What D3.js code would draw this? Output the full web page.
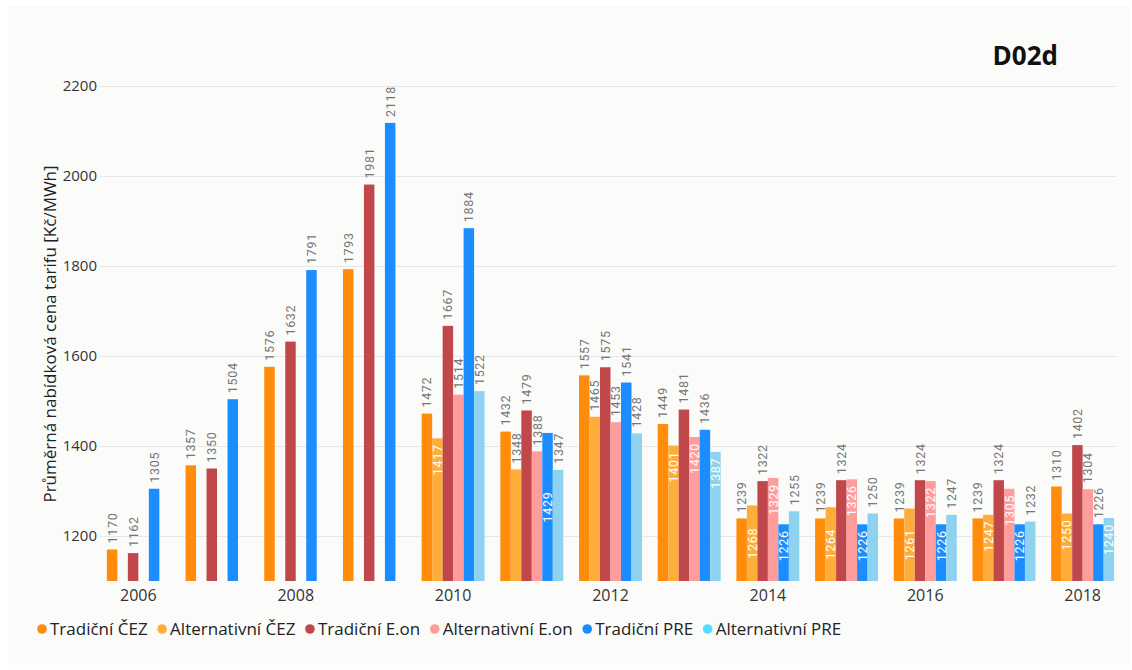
<!DOCTYPE html>
<html>
<head>
<meta charset="utf-8">
<script src="https://cdn.jsdelivr.net/npm/d3@7/dist/d3.min.js"></script>
<style>
  html, body { margin: 0; padding: 0; background: #ffffff; }
  svg { display: block; }
</style>
</head>
<body>
<svg id="chart" width="1132" height="670"></svg>
<script>
// ---- data ----
const years = ["2006","2007","2008","2009","2010","2011","2012","2013","2014","2015","2016","2017","2018"];
const tickYears = ["2006","2008","2010","2012","2014","2016","2018"];
const seriesNames = ["Tradiční ČEZ","Alternativní ČEZ","Tradiční E.on","Alternativní E.on","Tradiční PRE","Alternativní PRE"];
const tradicniCEZ    = [1170,1357,1576,1793,1472,1432,1557,1449,1239,1239,1239,1239,1310];
const alternativniCEZ= [null,null,null,null,1417,1348,1465,1401,1268,1264,1261,1247,1250];
const tradicniEon    = [1162,1350,1632,1981,1667,1479,1575,1481,1322,1324,1324,1324,1402];
const alternativniEon= [null,null,null,null,1514,1388,1453,1420,1329,1326,1322,1305,1304];
const tradicniPRE    = [1305,1504,1791,2118,1884,1429,1541,1436,1226,1226,1226,1226,1226];
const alternativniPRE= [null,null,null,null,1522,1347,1428,1387,1255,1250,1247,1232,1240];
const yTicks = [1200,1400,1600,1800,2000,2200];
const barColors    = ["#ff8c0a","#ffad3a","#c0484a","#ff9d9c","#1b8dff","#8dd3f0"];
const legendColors = ["#ff8c0a","#ffad3a","#c0484a","#ff9d9c","#1b8dff","#56dcff"];
const titleText = "D02d";
const yTitle = "Průměrná nabídková cena tarifu [Kč/MWh]";

const seriesValues = [tradicniCEZ, alternativniCEZ, tradicniEon, alternativniEon, tradicniPRE, alternativniPRE];

(function () {
// ---- layout ----
const svg = d3.select("#chart");
svg.append("rect").attr("x",8).attr("y",6).attr("width",1122).attr("height",659).attr("fill","#fbfcfa");

const plotLeft = 99, plotRight = 1122, plotTop = 86, plotBottom = 581;
const x0 = d3.scaleBand().domain(years).range([plotLeft, plotRight]).paddingInner(0.2).paddingOuter(0.1);
const x1 = d3.scaleBand().domain(d3.range(seriesNames.length)).range([0, x0.bandwidth()]);
const y = d3.scaleLinear().domain([1100, 2200]).range([plotBottom, plotTop]);

// gridlines
svg.append("g").selectAll("line").data(yTicks).join("line")
  .attr("x1", 100).attr("x2", 1117)
  .attr("y1", d => Math.round(y(d)) + 0.5).attr("y2", d => Math.round(y(d)) + 0.5)
  .attr("stroke", "#e6e7e6").attr("stroke-width", 1);

// y axis labels
const yAxis = d3.axisLeft(y).tickValues(yTicks).tickSize(0).tickPadding(0).tickFormat(d3.format("d"));
const yg = svg.append("g").attr("transform", "translate(97,0)").call(yAxis);
yg.select(".domain").remove();
yg.selectAll("text").attr("font-family","'Open Sans', 'Noto Sans', sans-serif").attr("font-size", 15).attr("fill","#333");

// x axis labels
const xAxis = d3.axisBottom(x0).tickValues(tickYears).tickSize(0).tickPadding(0);
const xg = svg.append("g").attr("transform", "translate(0,586)").call(xAxis);
xg.select(".domain").remove();
xg.selectAll("text").attr("font-family","'Open Sans', 'Noto Sans', sans-serif").attr("font-size", 16).attr("fill","#333").attr("dy","0.95em");

// y title
svg.append("text")
  .attr("transform", "translate(56,334) rotate(-90)")
  .attr("text-anchor","middle")
  .attr("font-family","'Open Sans', 'Noto Sans', sans-serif").attr("font-size", 17).attr("fill","#222")
  .text(yTitle);

// title
svg.append("text").attr("x", 1058).attr("y", 65).attr("text-anchor","end")
  .attr("font-family","'Open Sans', 'Noto Sans', sans-serif").attr("font-weight","bold").attr("font-size", 26).attr("fill","#111")
  .text(titleText);

// bars
const barData = [];
years.forEach((yr, i) => {
  seriesValues.forEach((vals, s) => {
    if (vals[i] != null) barData.push({year: yr, s: s, v: vals[i]});
  });
});

const bars = svg.append("g");
bars.selectAll("rect").data(barData).join("rect")
  .attr("x", d => x0(d.year) + x1(d.s))
  .attr("width", x1.bandwidth())
  .attr("y", d => y(d.v))
  .attr("height", d => plotBottom - y(d.v))
  .attr("fill", d => barColors[d.s]);

// labels with simple collision avoidance
const labelG = svg.append("g");
const placed = [];
const gap = 6, pad = 4, boxW = 12;
function collides(b) {
  return placed.some(p => b.x0 < p.x1 && b.x1 > p.x0 && b.y0 < p.y1 + pad && b.y1 + pad > p.y0);
}
barData.forEach(d => {
  const cx = x0(d.year) + x1(d.s) + x1.bandwidth() / 2;
  const t = labelG.append("text")
    .attr("font-family","Roboto, 'DejaVu Sans Condensed', sans-serif")
    .attr("font-size", 12.5)
    .attr("letter-spacing", 0.7)
    .text(d.v);
  const len = t.node().getComputedTextLength();
  const barTop = y(d.v);
  const cand = [
    {y1: barTop - gap, inside: false},
    {y1: barTop + gap + len, inside: true},
    {y1: (barTop + plotBottom) / 2 + len / 2, inside: true}
  ];
  let chosen = null;
  for (const c of cand) {
    const b = {x0: cx - boxW/2, x1: cx + boxW/2, y0: c.y1 - len, y1: c.y1};
    if (!collides(b)) { chosen = c; break; }
  }
  if (!chosen) chosen = cand[2];
  placed.push({x0: cx - boxW/2, x1: cx + boxW/2, y0: chosen.y1 - len, y1: chosen.y1});
  t.attr("transform", `translate(${cx + 4.5},${chosen.y1}) rotate(-90)`)
   .attr("fill", chosen.inside ? "#ffffff" : "#757575");
});

// legend
const legend = svg.append("g").attr("transform","translate(0,629)");
let lx = 42;
seriesNames.forEach((name, i) => {
  legend.append("circle").attr("cx", lx).attr("cy", 0).attr("r", 4.8).attr("fill", legendColors[i]);
  const t = legend.append("text").attr("x", lx + 8).attr("y", 6)
    .attr("font-family","'Open Sans', 'Noto Sans', sans-serif").attr("font-size", 17).attr("fill","#222")
    .text(name);
  lx += 8 + t.node().getComputedTextLength() + 14.5;
});
})();
</script>
</body>
</html>
